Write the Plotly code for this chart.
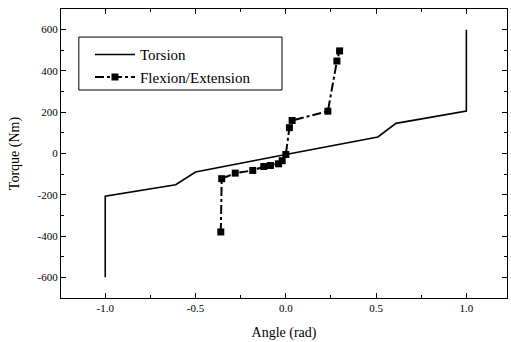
import plotly.graph_objects as go

torsion_x = [-1.0, -1.0, -0.61, -0.50, 0.0, 0.51, 0.61, 1.0, 1.0]
torsion_y = [-600, -207, -151, -90, -5, 80, 146, 206, 600]

flex_x = [-0.36, -0.355, -0.28, -0.183, -0.122, -0.085, -0.04, -0.02, 0.0, 0.02, 0.035, 0.233, 0.283, 0.298]
flex_y = [-380, -122, -95, -82, -63, -58, -50, -35, -5, 125, 160, 205, 448, 497]

x_ticks = [-1.0, -0.5, 0.0, 0.5, 1.0]
x_tick_text = ["-1.0", "-0.5", "0.0", "0.5", "1.0"]
y_ticks = [-600, -400, -200, 0, 200, 400, 600]
y_tick_text = ["-600", "-400", "-200", "0", "200", "400", "600"]

FONT = "Liberation Serif, Times New Roman, serif"

fig = go.Figure()
fig.add_trace(go.Scatter(x=torsion_x, y=torsion_y, mode="lines", name="Torsion",
                         line=dict(color="black", width=1.6)))
fig.add_trace(go.Scatter(x=flex_x, y=flex_y, mode="lines+markers", name="Flexion/Extension",
                         line=dict(color="black", width=2, dash="dashdot"),
                         marker=dict(symbol="square", size=7, color="black")))

axis_common = dict(showline=True, linecolor="black", linewidth=1.2, mirror="ticks",
                   ticks="inside", ticklen=5, tickcolor="black", tickwidth=1,
                   showgrid=False, zeroline=False,
                   tickfont=dict(family=FONT, size=11, color="black"))

fig.update_xaxes(range=[-1.245, 1.225], tickvals=x_ticks, ticktext=x_tick_text,
                 minor=dict(dtick=0.25, ticks="inside", ticklen=3, tickcolor="black"),
                 title=dict(text="Angle (rad)", font=dict(family=FONT, size=14, color="black"), standoff=13),
                 **axis_common)
fig.update_yaxes(range=[-700, 700], tickvals=y_ticks, ticktext=y_tick_text,
                 minor=dict(dtick=100, ticks="inside", ticklen=3, tickcolor="black"),
                 title=dict(text="Torque (Nm)", font=dict(family=FONT, size=14, color="black"), standoff=14),
                 **axis_common)

# legend frame
fig.add_shape(type="rect", xref="paper", yref="paper",
              x0=0.040, x1=0.4955, y0=0.7197, y1=0.903,
              line=dict(color="black", width=1), fillcolor="white", layer="below")

fig.update_layout(
    width=511, height=342,
    margin=dict(l=61, r=4, t=9, b=44),
    plot_bgcolor="white", paper_bgcolor="white",
    font=dict(family=FONT, size=12, color="black"),
    legend=dict(x=0.065, y=0.899, xanchor="left", yanchor="top",
                borderwidth=0, bgcolor="rgba(0,0,0,0)",
                font=dict(family=FONT, size=15, color="black"),
                tracegroupgap=0, itemwidth=40),
)

fig.write_html("out.html")
